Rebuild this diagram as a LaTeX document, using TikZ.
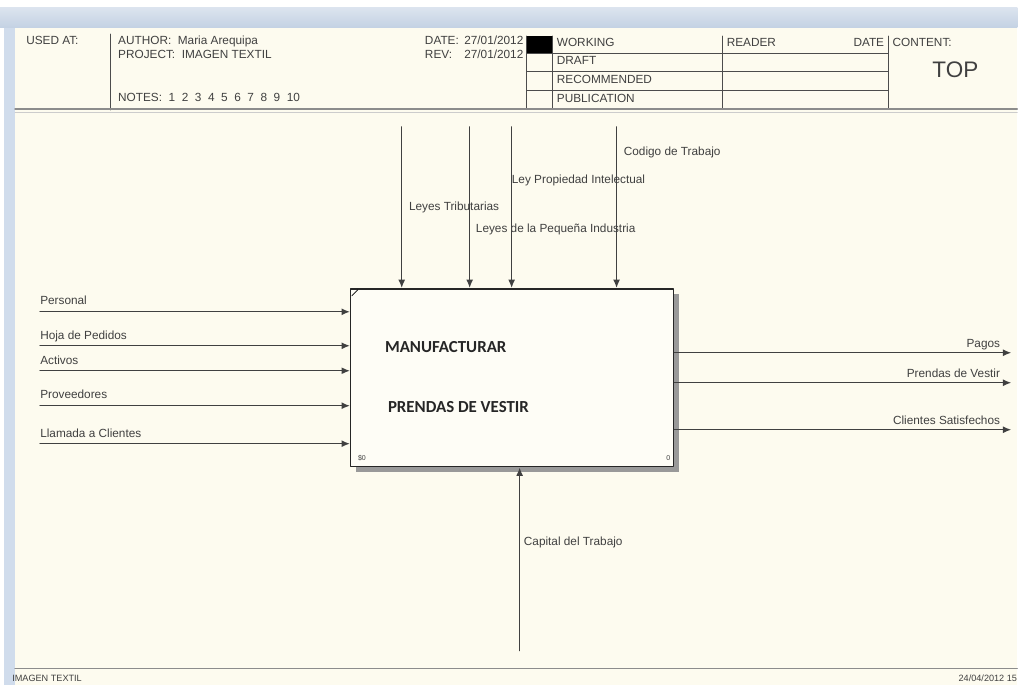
\documentclass[tikz,border=0pt]{standalone}
\usepackage{fontspec}
\setmainfont{Liberation Sans}
\newfontfamily\titlefont{Carlito}
\usetikzlibrary{arrows.meta}

\definecolor{paper}{HTML}{FDFBEF}
\definecolor{boxpaper}{HTML}{FEFDF6}
\definecolor{barblue}{HTML}{C3D1E3}
\definecolor{sideblue}{HTML}{D0DCEC}
\definecolor{inkgray}{HTML}{404040}

\begin{document}
\begin{tikzpicture}[
						x=0.025cm, y=-0.025cm,
						every node/.style={font=\fontsize{8.4}{9}\selectfont, inner sep=0pt, text=inkgray},
						txt/.style={anchor=base west},
						txtr/.style={anchor=base east},
						flow/.style={line width=1pt, draw=inkgray, -{Latex[length=6pt, width=5pt]}},
						rule/.style={line width=0.6pt, draw=black!70},
						actbox/.style={draw=black!85, line width=1.1pt, fill=boxpaper, minimum width=8.075cm, minimum height=4.45cm},
						line cap=round,
						line join=round
						]
						
						% Window background
						\fill[white] (0,0) rectangle (1018,685);
						\shade[top color=barblue!60, bottom color=barblue] (0,8) rectangle (1018,28);
						\fill[sideblue] (4,28) rectangle (15,685);
						\fill[paper] (15,28) rectangle (1018,685);
						
						% Header
						\draw[rule] (110,34) -- (110,110);
						\node[txt] (usedat) at (26,45) {USED AT:};
						\node[txt] (author) at (118,45) {AUTHOR:\ \ Maria Arequipa};
						\node[txt] (project) at (118,59) {PROJECT:\ \ IMAGEN TEXTIL};
						\node[txt] (notes) at (118,102) {NOTES:\ \ 1\ \ 2\ \ 3\ \ 4\ \ 5\ \ 6\ \ 7\ \ 8\ \ 9\ \ 10};
						\node[txt] (datekey) at (425,45) {DATE:};
						\node[txtr] (dateval) at (524,45) {27/01/2012};
						\node[txt] (revkey) at (425,59) {REV:};
						\node[txtr] (revval) at (524,59) {27/01/2012};
						
						% Status grid
						\fill[black] (527,36) rectangle (553,53);
						\draw[rule] (527,36) -- (527,108);
						\draw[rule] (553,36) -- (553,108);
						\draw[rule] (723,36) -- (723,108);
						\draw[rule] (889,36) -- (889,108);
						\draw[rule] (527,53) -- (889,53);
						\draw[rule] (527,71) -- (889,71);
						\draw[rule] (527,90) -- (889,90);
						\node[txt] (working) at (557,47) {WORKING};
						\node[txt] (draft) at (557,65) {DRAFT};
						\node[txt] (recommended) at (557,84) {RECOMMENDED};
						\node[txt] (publication) at (557,103) {PUBLICATION};
						\node[txt] (reader) at (727,47) {READER};
						\node[txtr] (readerdate) at (885,47) {DATE};
						\node[txt] (content) at (893,47) {CONTENT:};
						\node[font=\fontsize{16}{17}\selectfont] (top) at (956,70) {TOP};
						\draw[line width=1pt, black!45] (15,109) -- (1018,109);
						\draw[line width=0.6pt, black!20] (15,112) -- (1018,112);
						
						% Activity box
						\fill[black!40] (356,294) rectangle (679,472);
						\node[actbox] (act) at (512.5,378) {};
						\draw[line width=0.5pt] (352,296) -- (358,290);
						\node[txt, font=\titlefont\bfseries\fontsize{12}{14}\selectfont, text=black!85] (title1) at (385,353) {MANUFACTURAR};
						\node[txt, font=\titlefont\bfseries\fontsize{12}{14}\selectfont, text=black!85] (title2) at (388,413) {PRENDAS DE VESTIR};
						\node[txt, font=\fontsize{5}{6}\selectfont] (cost) at (358,461) {\$0};
						\node[txtr, font=\fontsize{5}{6}\selectfont] (boxno) at (671,461) {0};
						
						% Controls
						\coordinate (ctrlA) at (402,127);
						\coordinate (ctrlB) at (470,127);
						\coordinate (ctrlC) at (512,127);
						\coordinate (ctrlD) at (617,127);
						\draw[flow] (ctrlA) -- (ctrlA |- act.north);
						\draw[flow] (ctrlB) -- (ctrlB |- act.north);
						\draw[flow] (ctrlC) -- (ctrlC |- act.north);
						\draw[flow] (ctrlD) -- (ctrlD |- act.north);
						\node[txt] (codigo) at (624,156) {Codigo de Trabajo};
						\node[txt] (propiedad) at (512,184) {Ley Propiedad Intelectual};
						\node[txt] (tributarias) at (409,211) {Leyes Tributarias};
						\node[txt] (pequena) at (476,233) {Leyes de la Pequeña Industria};
						
						% Inputs
						\coordinate (inA) at (40,312);
						\coordinate (inB) at (40,346);
						\coordinate (inC) at (40,371);
						\coordinate (inD) at (40,406);
						\coordinate (inE) at (40,444);
						\draw[flow] (inA) -- (inA -| act.west);
						\draw[flow] (inB) -- (inB -| act.west);
						\draw[flow] (inC) -- (inC -| act.west);
						\draw[flow] (inD) -- (inD -| act.west);
						\draw[flow] (inE) -- (inE -| act.west);
						\node[txt] (personal) at (40,305) {Personal};
						\node[txt] (pedidos) at (40,340) {Hoja de Pedidos};
						\node[txt] (activos) at (40,365) {Activos};
						\node[txt] (proveedores) at (40,399) {Proveedores};
						\node[txt] (llamada) at (40,438) {Llamada a Clientes};
						
						% Outputs
						\coordinate (outA) at (1012,353);
						\coordinate (outB) at (1012,383);
						\coordinate (outC) at (1012,430);
						\draw[flow] (outA -| act.east) -- (outA);
						\draw[flow] (outB -| act.east) -- (outB);
						\draw[flow] (outC -| act.east) -- (outC);
						\node[txtr] (pagos) at (1001,348) {Pagos};
						\node[txtr] (prendas) at (1001,378) {Prendas de Vestir};
						\node[txtr] (clientes) at (1001,425) {Clientes Satisfechos};
						
						% Mechanism
						\coordinate (mech) at (520,651);
						\draw[flow] (mech) -- (mech |- act.south);
						\node[txt] (capital) at (524,546) {Capital del Trabajo};
						
						% Footer
						\draw[line width=1pt, black!45] (15,669) -- (1018,669);
						\node[txt, font=\fontsize{6.5}{7}\selectfont] (footname) at (12,682) {IMAGEN TEXTIL};
						\node[txtr, font=\fontsize{6.5}{7}\selectfont] (footdate) at (1018,682) {24/04/2012 15};
						
					\end{tikzpicture}
\end{document}
